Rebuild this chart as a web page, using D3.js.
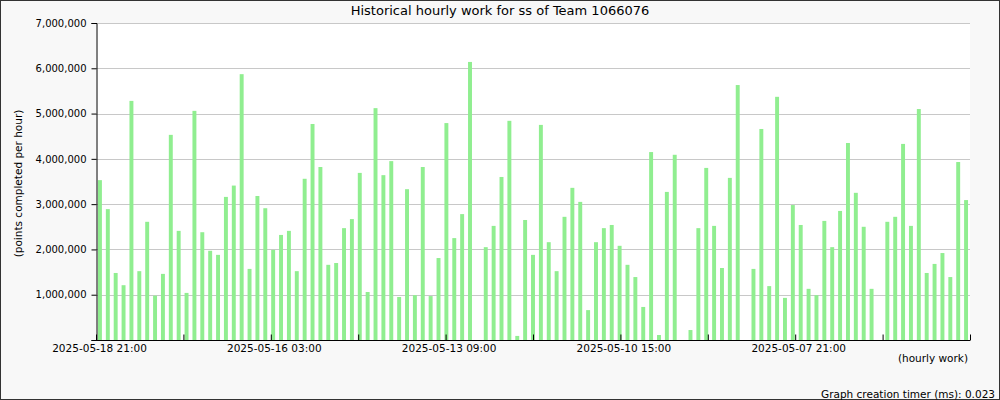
<!DOCTYPE html>
<html>
<head>
<meta charset="utf-8">
<script src="https://cdn.jsdelivr.net/npm/d3@7"></script>
<style>
  html, body { margin: 0; padding: 0; background: #f8f8f8; }
  svg { display: block; font-family: "DejaVu Sans", sans-serif; }
</style>
</head>
<body>
<svg id="chart" width="1000" height="400"></svg>
<script>
// ---- data (values in points per hour, bar order left to right) ----
const values = [
  3530000, 2890000, 1480000, 1210000, 5280000, 1520000, 2610000, 980000, 1460000, 4530000,
  2410000, 1040000, 5060000, 2380000, 1970000, 1880000, 3160000, 3410000, 5870000, 1570000,
  3180000, 2910000, 1990000, 2320000, 2410000, 1520000, 3560000, 4770000, 3820000, 1660000,
  1700000, 2470000, 2670000, 3690000, 1060000, 5120000, 3640000, 3950000, 950000, 3330000,
  990000, 3820000, 970000, 1810000, 4790000, 2250000, 2780000, 6140000, 0, 2050000,
  2520000, 3600000, 4840000, 90000, 2650000, 1880000, 4750000, 2160000, 1520000, 2720000,
  3360000, 3050000, 660000, 2160000, 2470000, 2540000, 2080000, 1660000, 1390000, 730000,
  4150000, 110000, 3270000, 4090000, 0, 220000, 2470000, 3800000, 2520000, 1590000,
  3580000, 5630000, 0, 1570000, 4660000, 1190000, 5370000, 930000, 2980000, 2540000,
  1130000, 990000, 2630000, 2050000, 2850000, 4350000, 3250000, 2500000, 1130000, 0,
  2610000, 2720000, 4330000, 2520000, 5100000, 1480000, 1680000, 1920000, 1390000, 3930000,
  3090000
];
const xTickLabels = ["2025-05-18 21:00", "2025-05-16 03:00", "2025-05-13 09:00", "2025-05-10 15:00", "2025-05-07 21:00"];
const yTicks = [0, 1000000, 2000000, 3000000, 4000000, 5000000, 6000000, 7000000];
const titleText = "Historical hourly work for ss of Team 1066076";
const yTitle = "(points completed per hour)";
const xTitle = "(hourly work)";
const footer = "Graph creation timer (ms): 0.023";

// ---- layout ----
const W = 1000, H = 400;
const mLeft = 96, mRight = 970, mTop = 23, mBottom = 340;

const svg = d3.select("#chart");

svg.append("rect").attr("x", 0.5).attr("y", 0.5).attr("width", W - 1).attr("height", H - 1)
  .attr("fill", "#f8f8f8").attr("stroke", "#333");

svg.append("rect").attr("x", mLeft).attr("y", mTop).attr("width", mRight - mLeft).attr("height", mBottom - mTop)
  .attr("fill", "#ffffff");

const x = d3.scaleBand().domain(d3.range(values.length)).range([mLeft, mRight])
  .paddingInner(0.5).paddingOuter(0.25);
const y = d3.scaleLinear().domain([0, 7000000]).range([mBottom, mTop]);

// gridlines
svg.append("g").selectAll("line").data(yTicks.filter(d => d > 0)).join("line")
  .attr("x1", mLeft).attr("x2", mRight)
  .attr("y1", d => Math.round(y(d)) + 0.5).attr("y2", d => Math.round(y(d)) + 0.5)
  .attr("stroke", "#c8c8c8").attr("stroke-width", 1);

// bars
svg.append("g").selectAll("rect").data(values).join("rect")
  .attr("x", (d, i) => x(i))
  .attr("width", x.bandwidth())
  .attr("y", d => y(d))
  .attr("height", d => mBottom - y(d))
  .attr("fill", "#90ee90");

// y axis (the zero label is not shown)
const yAxis = d3.axisLeft(y).tickValues(yTicks).tickSize(5).tickPadding(5)
  .tickFormat(d => (d === 0 ? "" : d3.format(",")(d)));
const gy = svg.append("g").attr("transform", `translate(${mLeft + 0.5},0)`).call(yAxis);
gy.select(".domain").attr("stroke", "#000");
gy.selectAll(".tick line").attr("stroke", "#000");
gy.selectAll("text").attr("font-size", 10).attr("font-family", "DejaVu Sans").attr("fill", "#000");

// x axis (10 equal divisions, labels on every other tick)
const xt = d3.scaleLinear().domain([0, 10]).range([mLeft, mRight]);
const xAxis = d3.axisBottom(xt).tickValues(d3.range(11)).tickSize(-6).tickPadding(3)
  .tickFormat(i => (i % 2 === 0 ? xTickLabels[i / 2] : ""));
const gx = svg.append("g").attr("transform", `translate(0,${mBottom + 0.5})`).call(xAxis);
gx.select(".domain").attr("stroke", "#000").attr("d", `M${mLeft},0H${mRight}`);
gx.selectAll(".tick line").attr("stroke", "#000");
gx.selectAll("text").attr("font-size", 10.5).attr("font-family", "DejaVu Sans").attr("fill", "#000")
  .attr("dx", 3).attr("y", 4);

// titles
svg.append("text").attr("x", 500).attr("y", 15).attr("text-anchor", "middle")
  .attr("font-size", 13).attr("fill", "#000").text(titleText);
svg.append("text").attr("transform", `translate(22,${(mTop + mBottom) / 2 + 2}) rotate(-90)`)
  .attr("text-anchor", "middle").attr("font-size", 10.5).attr("fill", "#000").text(yTitle);
svg.append("text").attr("x", 968).attr("y", 362).attr("text-anchor", "end")
  .attr("font-size", 10.5).attr("fill", "#000").text(xTitle);
svg.append("text").attr("x", 995).attr("y", 398).attr("text-anchor", "end")
  .attr("font-size", 10.5).attr("fill", "#000").text(footer);
</script>
</body>
</html>
